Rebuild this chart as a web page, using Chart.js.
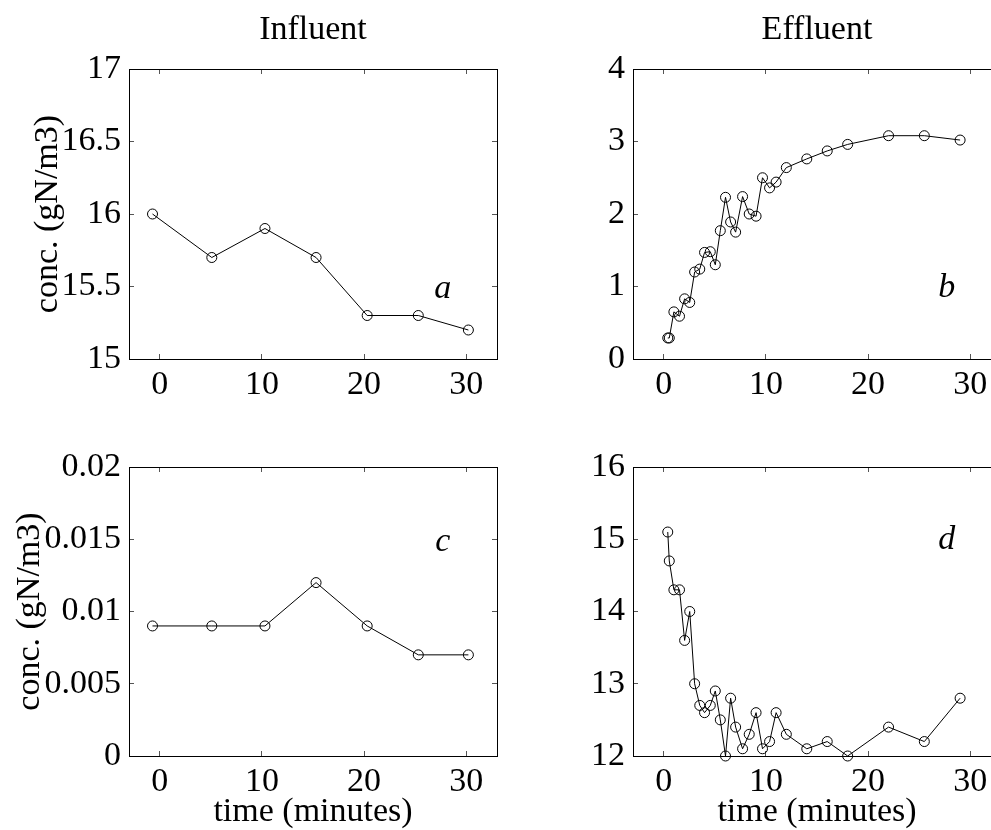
<!DOCTYPE html>
<html>
<head>
<meta charset="utf-8">
<script src="https://cdn.jsdelivr.net/npm/chart.js@4.4.1/dist/chart.umd.min.js"></script>
<style>
  html, body { margin: 0; padding: 0; background: #fff; }
  #page { position: relative; width: 991px; height: 830px; overflow: hidden; background: #fff; }
  .panel { position: absolute; }
</style>
</head>
<body>
<div id="page">
  <div class="panel" style="left:0px;top:0px;"><canvas id="chartA" width="510" height="415"></canvas></div>
  <div class="panel" style="left:520px;top:0px;"><canvas id="chartB" width="500" height="415"></canvas></div>
  <div class="panel" style="left:0px;top:420px;"><canvas id="chartC" width="510" height="410"></canvas></div>
  <div class="panel" style="left:520px;top:420px;"><canvas id="chartD" width="500" height="410"></canvas></div>
</div>
<script>
// Temps des prelevements (minutes)
const influentTime = [-0.7, 5.1, 10.3, 15.3, 20.3, 25.3, 30.2];
const effluentTime = [0.4, 0.55, 1.0, 1.55, 2.05, 2.55, 3.03, 3.53, 4.0, 4.56, 5.05, 5.54, 6.05, 6.55,
                      7.04, 7.72, 8.37, 9.04, 9.67, 10.36, 11.0, 12.0, 14.0, 16.0, 18.0, 22.0, 25.5, 29.0];

// Concentrations (gN/m3)
const influentTop = [16.0, 15.7, 15.9, 15.7, 15.3, 15.3, 15.2];
const effluentTop = [0.29, 0.29, 0.65, 0.59, 0.83, 0.78, 1.2, 1.24, 1.47, 1.48, 1.30, 1.77, 2.23, 1.89,
                     1.75, 2.24, 2.0, 1.97, 2.50, 2.36, 2.44, 2.64, 2.76, 2.87, 2.96, 3.08, 3.08, 3.02];
const influentBottom = [0.009, 0.009, 0.009, 0.012, 0.009, 0.007, 0.007];
const effluentBottom = [15.1, 14.7, 14.3, 14.3, 13.6, 14.0, 13.0, 12.7, 12.6, 12.7, 12.9, 12.5, 12.0, 12.8,
                        12.4, 12.1, 12.3, 12.6, 12.1, 12.2, 12.6, 12.3, 12.1, 12.2, 12.0, 12.4, 12.2, 12.8];

// Graduations
const xTicks = [0, 10, 20, 30];
const yTicksA = [15, 15.5, 16, 16.5, 17];
const yTicksB = [0, 1, 2, 3, 4];
const yTicksC = [0, 0.005, 0.01, 0.015, 0.02];
const yTicksD = [12, 13, 14, 15, 16];

const columnTitles = ['Influent', 'Effluent'];
const xTitle = 'time (minutes)';
const yTitle = 'conc. (gN/m3)';

const FONT = "'Liberation Serif', 'Times New Roman', serif";
const fontBig = { family: FONT, size: 34, lineHeight: 1 };

Chart.defaults.color = '#000';
Chart.defaults.font.family = FONT;

// Lettre du panneau (a, b, c, d), placee en coordonnees de donnees
const panelLetter = {
    id: 'panelLetter',
    afterDatasetsDraw(chart, args, opts) {
        const ctx = chart.ctx;
        const px = chart.scales.x.getPixelForValue(opts.x);
        const py = chart.scales.y.getPixelForValue(opts.y);
        ctx.save();
        ctx.font = 'italic 34px ' + FONT;
        ctx.fillStyle = '#000';
        ctx.textAlign = 'center';
        ctx.textBaseline = 'middle';
        ctx.fillText(opts.text, px, py);
        ctx.restore();
    }
};

function fixedTicks(values) {
    return function(scale) {
        scale.ticks = values.map(v => ({ value: v }));
    };
}

function makePanel(id, cfg) {
    const gridIn = { drawOnChartArea: false, tickLength: -5, color: '#555', lineWidth: 1 };
    const border = { display: true, color: '#000', width: 1 };
    const xMin = -3, xMax = 33;

    new Chart(document.getElementById(id), {
        type: 'line',
        data: {
            datasets: [{
                data: cfg.time.map((t, i) => ({ x: t, y: cfg.values[i] })),
                borderColor: '#000',
                borderWidth: 1,
                pointRadius: 5,
                pointBorderWidth: 1,
                pointBorderColor: '#000',
                pointBackgroundColor: 'rgba(0,0,0,0)',
                tension: 0,
                clip: false
            }]
        },
        plugins: [panelLetter],
        options: {
            responsive: false,
            animation: false,
            devicePixelRatio: 1,
            layout: { padding: cfg.padding },
            plugins: {
                legend: { display: false },
                tooltip: { enabled: false },
                panelLetter: cfg.letter
            },
            scales: {
                x: {
                    type: 'linear', position: 'bottom', min: xMin, max: xMax,
                    afterBuildTicks: fixedTicks(xTicks),
                    afterFit: s => { s.height = cfg.xHeight; },
                    grid: gridIn, border: border,
                    ticks: { font: fontBig, padding: 14, autoSkip: false, maxRotation: 0,
                             callback: v => String(v) },
                    title: { display: !!cfg.xTitle, text: cfg.xTitle || '', font: fontBig, padding: 0 }
                },
                x2: {
                    type: 'linear', position: 'top', min: xMin, max: xMax,
                    afterBuildTicks: fixedTicks(xTicks),
                    afterFit: s => { s.height = cfg.topHeight; },
                    grid: gridIn, border: border,
                    ticks: { display: false },
                    title: { display: !!cfg.title, text: cfg.title || '', font: fontBig, padding: 0 }
                },
                y: {
                    type: 'linear', position: 'left', min: cfg.yTicks[0], max: cfg.yTicks[cfg.yTicks.length - 1],
                    afterBuildTicks: fixedTicks(cfg.yTicks),
                    afterFit: s => { s.width = cfg.yWidth; },
                    grid: gridIn, border: border,
                    ticks: { font: fontBig, padding: 13, autoSkip: false, callback: v => String(v) },
                    title: { display: !!cfg.yTitle, text: cfg.yTitle || '', font: fontBig, padding: 0 }
                },
                y2: {
                    type: 'linear', position: 'right', min: cfg.yTicks[0], max: cfg.yTicks[cfg.yTicks.length - 1],
                    afterBuildTicks: fixedTicks(cfg.yTicks),
                    afterFit: s => { s.width = 1; },
                    grid: gridIn, border: border,
                    ticks: { display: false }
                }
            }
        }
    });
}

makePanel('chartA', {
    time: influentTime, values: influentTop, yTicks: yTicksA,
    title: columnTitles[0], yTitle: yTitle,
    padding: { left: 31, top: 13, right: 12, bottom: 0 },
    yWidth: 98, xHeight: 56, topHeight: 56,
    letter: { text: 'a', x: 27.7, y: 15.48 }
});
makePanel('chartB', {
    time: effluentTime, values: effluentTop, yTicks: yTicksB,
    title: columnTitles[1],
    padding: { left: 0, top: 13, right: 18, bottom: 0 },
    yWidth: 113, xHeight: 56, topHeight: 56,
    letter: { text: 'b', x: 27.7, y: 0.98 }
});
makePanel('chartC', {
    time: influentTime, values: influentBottom, yTicks: yTicksC,
    yTitle: yTitle, xTitle: xTitle,
    padding: { left: 13, top: 0, right: 12, bottom: 1 },
    yWidth: 116, xHeight: 73, topHeight: 47,
    letter: { text: 'c', x: 27.7, y: 0.0148 }
});
makePanel('chartD', {
    time: effluentTime, values: effluentBottom, yTicks: yTicksD,
    xTitle: xTitle,
    padding: { left: 0, top: 0, right: 18, bottom: 1 },
    yWidth: 113, xHeight: 73, topHeight: 47,
    letter: { text: 'd', x: 27.7, y: 14.99 }
});
</script>
</body>
</html>
